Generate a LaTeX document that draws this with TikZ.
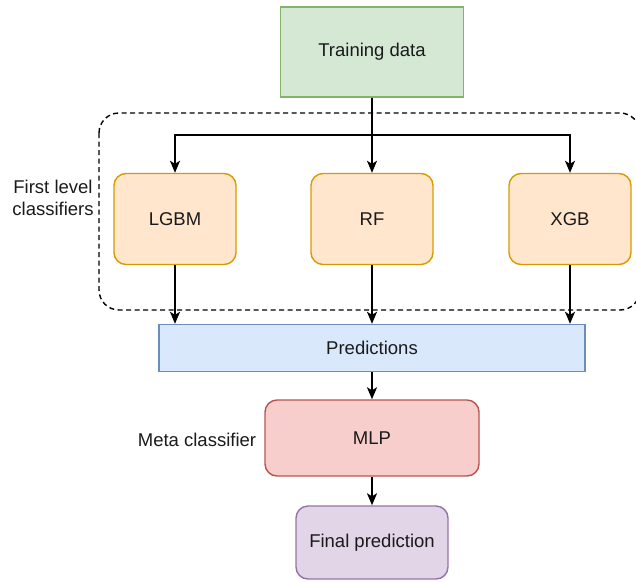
\documentclass[tikz,border=0pt]{standalone}
\usepackage{fontspec}
\setmainfont{Liberation Sans}
\usetikzlibrary{arrows.meta}
\definecolor{gfill}{HTML}{D5E8D4}\definecolor{gline}{HTML}{82B366}
\definecolor{ofill}{HTML}{FFE6CC}\definecolor{oline}{HTML}{D79B00}
\definecolor{bfill}{HTML}{DAE8FC}\definecolor{bline}{HTML}{6C8EBF}
\definecolor{rfill}{HTML}{F8CECC}\definecolor{rline}{HTML}{B85450}
\definecolor{pfill}{HTML}{E1D5E7}\definecolor{pline}{HTML}{9673A6}
\definecolor{txt}{HTML}{1A1A1A}
\begin{document}
\begin{tikzpicture}[x=1pt,y=-1pt,
  every node/.style={font=\fontsize{18.5}{22}\selectfont, text=txt},
  box/.style={draw, line width=1.4pt, inner sep=0pt},
  rbox/.style={box, rounded corners=12pt},
  arr/.style={draw=black, line width=1.7pt, -{Stealth[length=12pt,width=10pt,inset=3pt]}},
  lbl/.style={align=center}]
\path[use as bounding box] (0,0) rectangle (636,581);
\clip (0,0) rectangle (636,581);

% group of first-level classifiers
\draw[line width=1.4pt, dash pattern=on 5pt off 3.5pt, rounded corners=20pt]
  (99,113) rectangle (640,310);

\node[box, fill=gfill, draw=gline, minimum width=183pt, minimum height=90pt] (td) at (372,52) {Training data};
\node[rbox, fill=ofill, draw=oline, minimum width=122pt, minimum height=91pt] (lgbm) at (175,219) {LGBM};
\node[rbox, fill=ofill, draw=oline, minimum width=122pt, minimum height=91pt] (rf) at (372,219) {RF};
\node[rbox, fill=ofill, draw=oline, minimum width=122pt, minimum height=91pt] (xgb) at (570,219) {XGB};
\node[box, fill=bfill, draw=bline, minimum width=426pt, minimum height=47pt] (pred) at (372,348) {Predictions};
\node[rbox, fill=rfill, draw=rline, minimum width=214pt, minimum height=76pt] (mlp) at (372,438) {MLP};
\node[rbox, fill=pfill, draw=pline, minimum width=152pt, minimum height=73pt] (fin) at (372,542.5) {Final prediction};

\node[lbl] (l1) at (53,198) {First level\\classifiers};
\node[lbl] (l2) at (197,440) {Meta classifier};

\coordinate (split) at (td.south |- 0,135);
\draw[arr] (td.south) -- (rf.north);
\draw[arr] (td.south) -- (split) -| (lgbm.north);
\draw[arr] (td.south) -- (split) -| (xgb.north);

\draw[arr] (lgbm.south) -- (lgbm.south |- pred.north);
\draw[arr] (rf.south) -- (rf.south |- pred.north);
\draw[arr] (xgb.south) -- (xgb.south |- pred.north);
\draw[arr] (pred.south) -- (mlp.north);
\draw[arr] (mlp.south) -- (fin.north);
\end{tikzpicture}
\end{document}
